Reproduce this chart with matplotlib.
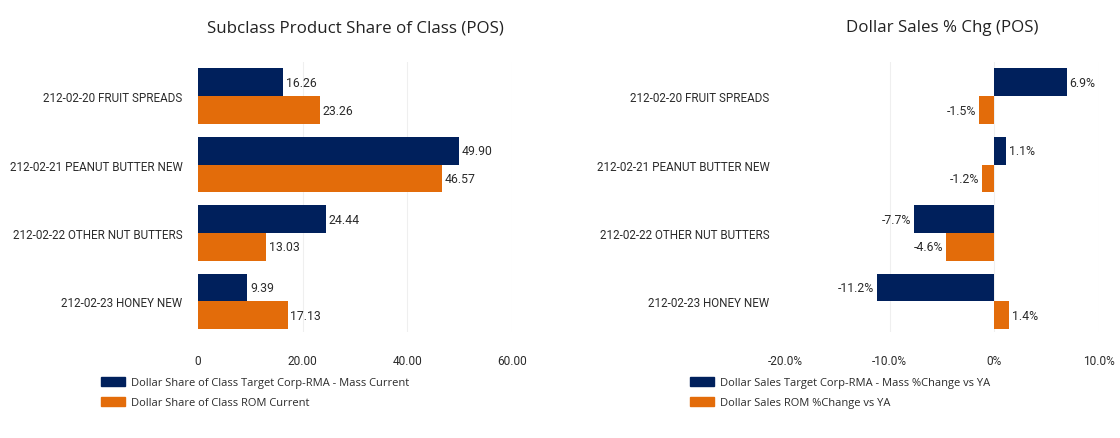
import matplotlib
matplotlib.use("Agg")
import matplotlib.pyplot as plt
from matplotlib.patches import Patch

categories = ["212-02-20 FRUIT SPREADS", "212-02-21 PEANUT BUTTER NEW",
              "212-02-22 OTHER NUT BUTTERS", "212-02-23 HONEY NEW"]
share_target = [16.26, 49.90, 24.44, 9.39]
share_rom = [23.26, 46.57, 13.03, 17.13]
chg_target = [6.9, 1.1, -7.7, -11.2]
chg_rom = [-1.5, -1.2, -4.6, 1.4]

left_ticks = [0, 20, 40, 60]
left_ticklabels = ["0", "20.00", "40.00", "60.00"]
right_ticks = [-20, -10, 0, 10]
right_ticklabels = ["-20.0%", "-10.0%", "0%", "10.0%"]

left_legend = ["Dollar Share of Class Target Corp-RMA - Mass Current",
               "Dollar Share of Class ROM Current"]
right_legend = ["Dollar Sales Target Corp-RMA - Mass %Change vs YA",
                "Dollar Sales ROM %Change vs YA"]
left_title = "Subclass Product Share of Class (POS)"
right_title = "Dollar Sales % Chg (POS)"

NAVY = "#00205c"
ORANGE = "#e36c0a"
TXT = "#2b2b2b"
plt.rcParams['font.family'] = ['Open Sans', 'DejaVu Sans']
LAB_FONT = ['Roboto', 'DejaVu Sans']

W, H = 1120, 439
fig = plt.figure(figsize=(W / 100, H / 100), dpi=100)

def axpos(x0, x1, y0, y1):
    return [x0 / W, 1 - y1 / H, (x1 - x0) / W, (y1 - y0) / H]

axL = fig.add_axes(axpos(198, 512, 63, 333))
axR = fig.add_axes(axpos(785, 1099, 63, 333))

bh = 0.405
ypos = list(range(len(categories)))

def draw(ax, a, b, fmt, ticks, ticklabels, xlim, title):
    y1 = [y - bh / 2 for y in ypos]
    y2 = [y + bh / 2 for y in ypos]
    ba = ax.barh(y1, a, height=bh, color=NAVY, zorder=3)
    bb = ax.barh(y2, b, height=bh, color=ORANGE, zorder=3)
    for bars, vals in ((ba, a), (bb, b)):
        for rect, v in zip(bars, vals):
            yc = rect.get_y() + rect.get_height() / 2
            ax.annotate(fmt(v), (v, yc), xytext=(2 if v >= 0 else -2, 0),
                        textcoords="offset points",
                        ha="left" if v >= 0 else "right", va="center",
                        fontsize=8.8, color=TXT, family=LAB_FONT)
    ax.set_xlim(*xlim)
    ax.set_ylim(3.45, -0.5)
    ax.set_yticks(ypos)
    ax.set_yticklabels(categories, family=LAB_FONT, fontsize=8.4)
    ax.set_xticks(ticks)
    ax.set_xticklabels(ticklabels, family=LAB_FONT, fontsize=8.6)
    ax.tick_params(axis="both", length=0, colors=TXT)
    ax.tick_params(axis="y", pad=11)
    ax.tick_params(axis="x", pad=16)
    for s in ax.spines.values():
        s.set_visible(False)
    ax.grid(axis="x", color="#efefef", linewidth=0.8, zorder=0)
    ax.xaxis.get_gridlines()[0].set_visible(False)
    ax.set_axisbelow(True)
    ax.set_title(title, fontsize=12.2, color="#222222", pad=22)

draw(axL, share_target, share_rom, lambda v: f"{v:.2f}", left_ticks,
     left_ticklabels, (0, 60), left_title)
draw(axR, chg_target, chg_rom, lambda v: f"{v:.1f}%", right_ticks,
     right_ticklabels, (-20, 10), right_title)

def legend(x, labels):
    handles = [Patch(color=NAVY), Patch(color=ORANGE)]
    fig.legend(handles, labels, loc="upper left",
               bbox_to_anchor=(x / W, 1 - 378 / H), frameon=False,
               fontsize=8, labelcolor=TXT, handlelength=2.2, handleheight=0.9,
               handletextpad=0.5, labelspacing=0.75, borderaxespad=0,
               borderpad=0)

legend(101, left_legend)
legend(690, right_legend)

fig.savefig("out.png", dpi=100)
